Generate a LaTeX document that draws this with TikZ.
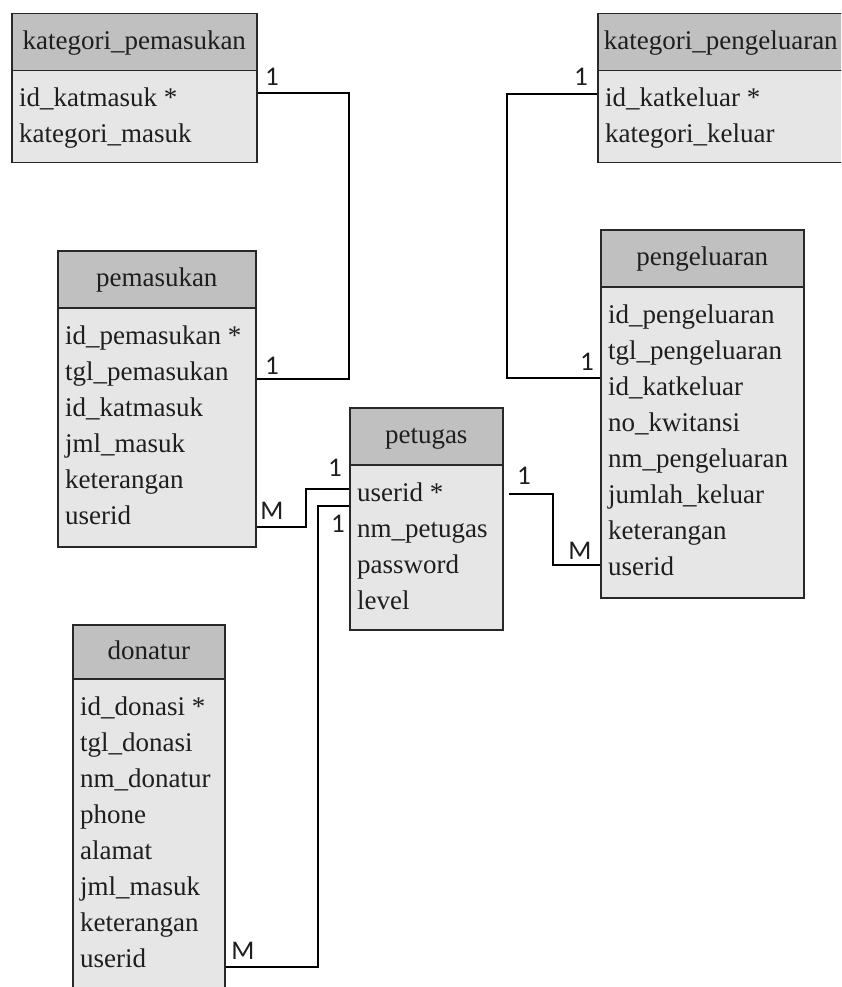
\documentclass[tikz,border=0pt]{standalone}
\usepackage{fontspec}
\setmainfont{Liberation Serif}
\newfontfamily\lblfont{Carlito}
\definecolor{hdrgray}{RGB}{192,192,192}
\definecolor{bodygray}{RGB}{230,230,230}
\definecolor{boxline}{RGB}{40,40,40}
\definecolor{txt}{RGB}{30,30,30}
\newcommand{\erent}[8]{%
  \node[bodybox, anchor=north west, minimum width={(#4-#2)*1pt}, minimum height={(#6-#5)*1pt}] (#1) at (#2,#5) {};
  \node[hdrbox, anchor=north west, minimum width={(#4-#2)*1pt}, minimum height={(#5-#3)*1pt}] (#1-h) at (#2,#3) {#7};
  \foreach \t [count=\i] in {#8} {\node[rowtext, anchor=base west] (#1-r\i) at ({#2+8},{#5+37+36*(\i-1)}) {\t};}
}
\begin{document}
\begin{tikzpicture}[x=1pt,y=-1pt,
  hdrbox/.style={draw=boxline, line width=1.5pt, fill=hdrgray, inner sep=0pt, text height=20pt, text depth=5pt, font=\fontsize{27}{30}\selectfont, text=txt},
  bodybox/.style={draw=boxline, line width=1.5pt, fill=bodygray, inner sep=0pt},
  rowtext/.style={inner sep=0pt, font=\fontsize{27}{30}\selectfont, text=txt},
  card/.style={inner sep=0pt, font=\lblfont\fontsize{27}{29}\selectfont, text=txt},
  conn/.style={draw=black, line width=1.3pt}]
\useasboundingbox (0,0) rectangle (841,987);
\clip (0,0) rectangle (841,987);
\fill[white] (0,0) rectangle (841,987);

\erent{kp}{11}{13}{256}{70}{162}{kategori\_pemasukan}{id\_katmasuk *, kategori\_masuk}
\erent{kk}{597}{13}{843}{70}{162}{kategori\_pengeluaran}{id\_katkeluar *, kategori\_keluar}
\erent{pm}{57}{250}{255}{307}{546}{pemasukan}{id\_pemasukan *, tgl\_pemasukan, id\_katmasuk, jml\_masuk, keterangan, userid}
\erent{pt}{349}{407}{502}{464}{629}{petugas}{userid *, nm\_petugas, password, level}
\erent{pg}{600}{229}{803}{286}{597}{pengeluaran}{id\_pengeluaran, tgl\_pengeluaran, id\_katkeluar, no\_kwitansi, nm\_pengeluaran, jumlah\_keluar, keterangan, userid}
\erent{dn}{72}{624}{224}{678}{990}{donatur}{id\_donasi *, tgl\_donasi, nm\_donatur, phone, alamat, jml\_masuk, keterangan, userid}

% connectors
\draw[conn] (kp.east |- 0,93) -| (349,379) -- (pm.east |- 0,379);
\draw[conn] (kk.west |- 0,94) -| (507,378) -- (pg.west |- 0,378);
\draw[conn] (pm.east |- 0,527) -| (306,489) -- (pt.west |- 0,489);
\draw[conn] (dn.east |- 0,967) -| (318,506) -- (pt.west |- 0,506);
\path (pt.east |- 0,494) ++(5,0) coordinate (ptout);
\draw[conn] (ptout) -| (553,565) -- (pg.west |- 0,565);

% cardinalities
\node[card] (c1) at (272,77) {1};
\node[card] (c2) at (272,366) {1};
\node[card] (c3) at (581,77) {1};
\node[card] (c4) at (587,362) {1};
\node[card] (c5) at (272,511) {M};
\node[card] (c6) at (335,468) {1};
\node[card] (c7) at (243,951) {M};
\node[card] (c8) at (338,524) {1};
\node[card] (c9) at (524,476) {1};
\node[card] (c10) at (580,551) {M};
\end{tikzpicture}
\end{document}
